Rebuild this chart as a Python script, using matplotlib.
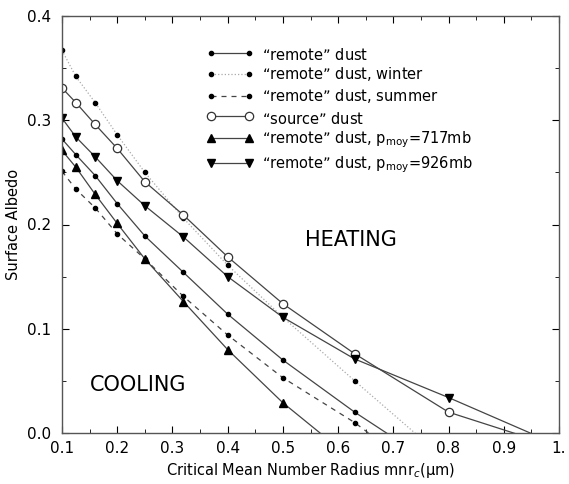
import matplotlib
matplotlib.use("Agg")
import matplotlib.pyplot as plt
from matplotlib.ticker import MultipleLocator

# ---------------------- Data -------------------
# critical mean number radius (um) at which each case was computed
radius = [0.1, 0.125, 0.16, 0.2, 0.25, 0.32, 0.4, 0.5, 0.63, 0.8, 1.0]

# surface albedo at which the forcing changes sign (read off the figure,
# last values below 0 only set where the segment meets the x axis)
remote_dust = [0.282, 0.267, 0.247, 0.220, 0.189, 0.154, 0.114, 0.070, 0.020, -0.039]
remote_winter = [0.367, 0.342, 0.317, 0.286, 0.250, 0.206, 0.161, 0.111, 0.050, -0.028]
remote_summer = [0.251, 0.234, 0.216, 0.191, 0.167, 0.131, 0.094, 0.053, 0.010, -0.058]
source_dust = [0.331, 0.317, 0.296, 0.273, 0.241, 0.209, 0.169, 0.124, 0.076, 0.020, -0.014]
remote_717 = [0.271, 0.255, 0.229, 0.201, 0.167, 0.126, 0.080, 0.029, -0.027]
remote_926 = [0.302, 0.284, 0.265, 0.242, 0.218, 0.188, 0.150, 0.111, 0.071, 0.034, -0.012]

# empty subscript on every label so all legend rows get the same height
pad_sub = "$_{\\rm\\ }$"
labels = [
    "\u201cremote\u201d dust" + pad_sub,
    "\u201cremote\u201d dust, winter" + pad_sub,
    "\u201cremote\u201d dust, summer" + pad_sub,
    "\u201csource\u201d dust" + pad_sub,
    "\u201cremote\u201d dust, p$_{\\rm moy}$=717mb",
    "\u201cremote\u201d dust, p$_{\\rm moy}$=926mb",
]

# ---------------------- Plot -------------------
plt.rcParams['font.family'] = ['DejaVu Sans']

fig = plt.figure(figsize=(5.69, 4.84), dpi=100)
ax = fig.add_axes([62 / 569, 1 - 433 / 484, (559 - 62) / 569, (433 - 16) / 484])

line_col = '#444444'
ax.plot(radius[:len(remote_dust)], remote_dust, '-', color=line_col, lw=0.9,
        marker='o', ms=3, mfc='black', mec='black', label=labels[0])
ax.plot(radius[:len(remote_winter)], remote_winter, ':', color='#aaaaaa', lw=0.9,
        marker='o', ms=3, mfc='black', mec='black', label=labels[1])
ax.plot(radius[:len(remote_summer)], remote_summer, '--', color=line_col, lw=0.9,
        dashes=(4, 4), marker='o', ms=3, mfc='black', mec='black', label=labels[2])
ax.plot(radius[:len(source_dust)], source_dust, '-', color=line_col, lw=0.9,
        marker='o', ms=6, mfc='white', mec='#333333', mew=0.9, label=labels[3])
ax.plot(radius[:len(remote_717)], remote_717, '-', color=line_col, lw=0.9,
        marker='^', ms=6, mfc='black', mec='black', label=labels[4])
ax.plot(radius[:len(remote_926)], remote_926, '-', color=line_col, lw=0.9,
        marker='v', ms=6, mfc='black', mec='black', label=labels[5])

ax.set_xlim(0.1, 1.0)
ax.set_ylim(0.0, 0.4)
ax.xaxis.set_minor_locator(MultipleLocator(0.05))
ax.yaxis.set_minor_locator(MultipleLocator(0.05))
ax.set_xticks([0.1, 0.2, 0.3, 0.4, 0.5, 0.6, 0.7, 0.8, 0.9, 1.0])
ax.set_xticklabels(['0.1', '0.2', '0.3', '0.4', '0.5', '0.6', '0.7', '0.8', '0.9', '1.'])
ax.set_yticks([0.0, 0.1, 0.2, 0.3, 0.4])
ax.set_yticklabels(['0.0', '0.1', '0.2', '0.3', '0.4'])
ax.tick_params(which='both', direction='in', top=True, right=True, labelsize=11)
ax.tick_params(which='major', length=5)
ax.tick_params(which='minor', length=3)
ax.tick_params(axis='y', pad=8)
ax.tick_params(axis='x', pad=6)
for s in ax.spines.values():
    s.set_color('#555555')
    s.set_linewidth(1.0)

ax.set_xlabel('Critical Mean Number Radius mnr$_c$(\u03bcm)', fontsize=10.5, labelpad=3)
ax.set_ylabel('Surface Albedo', fontsize=10.5)

ax.text(0.54, 0.185, 'HEATING', fontsize=15, va='center')
ax.text(0.15, 0.046, 'COOLING', fontsize=15, va='center')

ax.legend(loc='upper left', bbox_to_anchor=(207 / 569, 1 - 46 / 484),
          bbox_transform=fig.transFigure, frameon=False, fontsize=10.5,
          numpoints=2, handlelength=3.2, handletextpad=0.6, labelspacing=0.32,
          borderpad=0, borderaxespad=0)

fig.savefig('out.png', dpi=100)
